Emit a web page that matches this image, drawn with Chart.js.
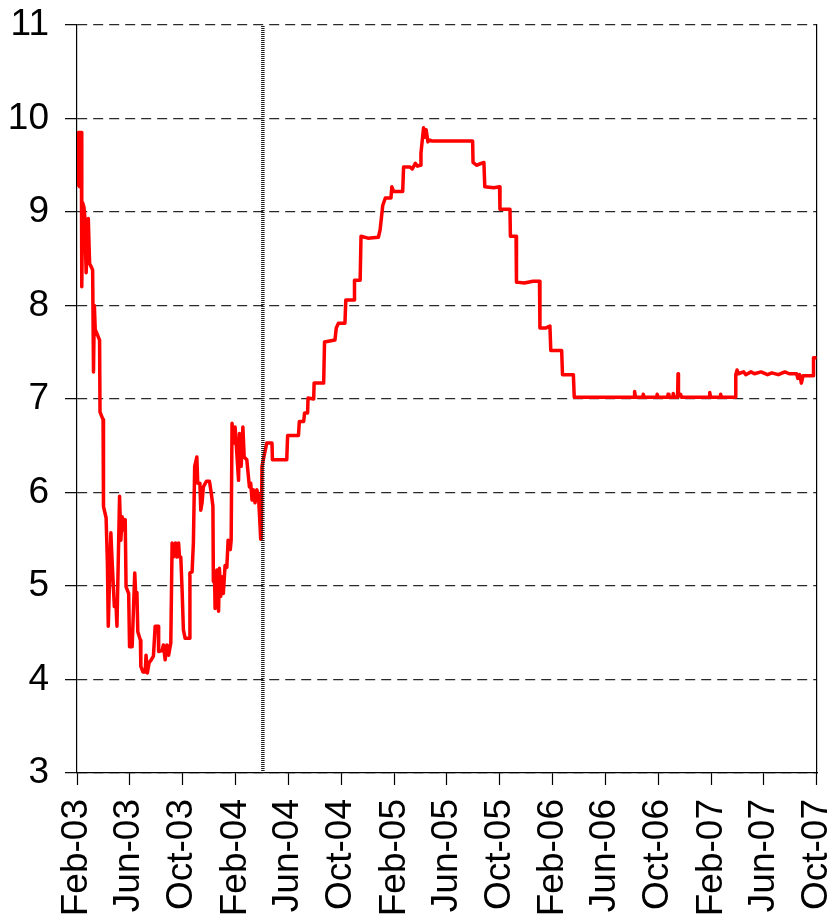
<!DOCTYPE html>
<html>
<head>
<meta charset="utf-8">
<script src="https://cdn.jsdelivr.net/npm/chart.js@4.4.0/dist/chart.umd.min.js"></script>
<style>
  html, body { margin: 0; padding: 0; background: #fff; }
  #wrap { width: 830px; height: 918px; }
</style>
</head>
<body>
<div id="wrap"><canvas id="rateChart" width="830" height="918"></canvas></div>
<script>
// days counted from 1 Feb 2003
const days = [
  0, 3, 5, 6, 8, 10, 11, 13, 16, 18, 21, 26, 29, 34, 36, 38, 40, 42, 46, 52,
  53, 60, 61, 67, 70, 72, 73, 78, 81, 86, 90, 92, 98, 101, 104, 107, 111, 113, 119, 121,
  127, 133, 135, 138, 140, 146, 147, 152, 157, 159, 162, 166, 171, 176, 180, 187, 188, 196, 199, 203,
  207, 211, 216, 219, 222, 227, 230, 234, 236, 239, 242, 245, 249, 259, 260, 265, 268, 271, 276, 278,
  283, 285, 288, 291, 298, 305, 309, 313, 314, 317, 318, 322, 326, 328, 331, 334, 337, 341, 345, 348,
  353, 355, 357, 360, 364, 368, 372, 374, 378, 382, 385, 391, 397, 400, 403, 406, 410, 414, 418, 420,
  423, 424, 426, 429, 437, 449, 450, 483, 485, 510, 512, 522, 524, 531, 532, 545, 546, 568, 570, 594,
  597, 602, 617, 619, 638, 639, 652, 654, 670, 694, 698, 704, 710, 723, 725, 729, 750, 752, 767, 772,
  779, 784, 790, 792, 798, 801, 804, 808, 812, 817, 911, 912, 920, 937, 939, 960, 973, 974, 997, 998,
  1011, 1012, 1030, 1050, 1065, 1066, 1080, 1089, 1091, 1116, 1118, 1143, 1145, 1283, 1284, 1286, 1303, 1304, 1306, 1335,
  1336, 1338, 1360, 1361, 1363, 1372, 1373, 1375, 1383, 1384, 1385, 1390, 1392, 1456, 1457, 1459, 1481, 1482, 1484, 1516,
  1517, 1520, 1523, 1535, 1540, 1552, 1560, 1575, 1590, 1600, 1615, 1630, 1640, 1657, 1660, 1664, 1668, 1672, 1695, 1696,
  1703
];

const rates = [
  9.27, 9.85, 9.85, 9.27, 9.85, 9.85, 8.20, 9.10, 9.05, 8.95, 8.35, 8.93, 8.45, 8.40, 8.38, 7.29, 8.00, 7.74, 7.70, 7.63,
  6.86, 6.78, 5.85, 5.73, 5.25, 4.57, 4.57, 5.57, 5.25, 4.78, 4.78, 4.57, 5.96, 5.49, 5.74, 5.60, 5.71, 4.99, 4.92, 4.35,
  4.35, 5.14, 4.93, 4.93, 4.51, 4.42, 4.14, 4.08, 4.08, 4.26, 4.07, 4.18, 4.21, 4.25, 4.57, 4.57, 4.30, 4.31, 4.37, 4.21,
  4.37, 4.26, 4.39, 5.46, 5.31, 5.46, 5.31, 5.46, 5.31, 5.31, 4.96, 4.53, 4.44, 4.44, 5.14, 5.15, 5.46, 6.28, 6.38, 6.10,
  6.10, 5.81, 5.89, 6.06, 6.12, 6.12, 6.00, 5.85, 5.05, 5.03, 4.76, 5.17, 4.73, 5.19, 4.89, 5.10, 4.92, 5.22, 5.20, 5.49,
  5.39, 5.49, 6.74, 6.53, 6.70, 6.42, 6.13, 6.63, 6.28, 6.70, 6.38, 6.35, 6.06, 6.10, 5.92, 6.03, 5.89, 6.03, 5.96, 5.78,
  5.50, 5.50, 6.28, 6.35, 6.53, 6.53, 6.35, 6.35, 6.61, 6.61, 6.76, 6.76, 6.85, 6.85, 7.01, 7.00, 7.17, 7.17, 7.61, 7.63,
  7.76, 7.81, 7.81, 8.06, 8.06, 8.27, 8.27, 8.74, 8.72, 8.73, 8.81, 9.07, 9.15, 9.15, 9.27, 9.22, 9.22, 9.48, 9.48, 9.46,
  9.52, 9.49, 9.50, 9.63, 9.90, 9.80, 9.88, 9.75, 9.77, 9.76, 9.76, 9.53, 9.50, 9.53, 9.27, 9.26, 9.27, 9.03, 9.03, 8.74,
  8.74, 8.25, 8.24, 8.26, 8.26, 7.76, 7.76, 7.78, 7.52, 7.52, 7.26, 7.26, 7.02, 7.02, 7.08, 7.02, 7.02, 7.05, 7.02, 7.02,
  7.05, 7.02, 7.02, 7.05, 7.02, 7.02, 7.06, 7.02, 7.02, 7.27, 7.03, 7.05, 7.02, 7.02, 7.07, 7.02, 7.02, 7.05, 7.02, 7.02,
  7.26, 7.31, 7.27, 7.29, 7.26, 7.29, 7.27, 7.29, 7.26, 7.28, 7.26, 7.29, 7.27, 7.27, 7.22, 7.26, 7.17, 7.25, 7.25, 7.44,
  7.44
];

// dotted marker line (start of the second period)
const markerDay = 428;
const markerRange = [3, 11];

const tickLabels = ['Feb-03', 'Jun-03', 'Oct-03', 'Feb-04', 'Jun-04', 'Oct-04', 'Feb-05', 'Jun-05',
  'Oct-05', 'Feb-06', 'Jun-06', 'Oct-06', 'Feb-07', 'Jun-07', 'Oct-07'];

const monthIdx = { Feb: 1, Jun: 5, Oct: 9 };
const start = Date.UTC(2003, 1, 1);
const tickDays = tickLabels.map(l => {
  const [m, y] = l.split('-');
  return (Date.UTC(2000 + Number(y), monthIdx[m], 1) - start) / 86400000;
});

const font = { family: "'Liberation Sans', Arial, sans-serif", size: 37 };

const ctx = document.getElementById('rateChart').getContext('2d');
new Chart(ctx, {
  type: 'line',
  data: {
    datasets: [{
      data: markerRange.map(v => ({ x: markerDay, y: v })),
      borderColor: '#1a1a1a',
      borderWidth: 3.5,
      borderDash: [1, 1],
      pointRadius: 0
    }, {
      data: days.map((d, i) => ({ x: d, y: rates[i] })),
      borderColor: '#ff0000',
      borderWidth: 3.5,
      borderJoinStyle: 'round',
      pointRadius: 0,
      tension: 0,
      fill: false
    }]
  },
  options: {
    responsive: false,
    animation: false,
    devicePixelRatio: 1,
    layout: { padding: { top: 25, right: 13, left: 0, bottom: 0 } },
    plugins: { legend: { display: false }, tooltip: { enabled: false } },
    scales: {
      x: {
        type: 'linear',
        min: 0,
        max: 1704,
        afterBuildTicks: s => { s.ticks = tickDays.map(v => ({ value: v })); },
        afterFit: s => {
          s.height = 145;
          s.paddingLeft = 0; s.paddingRight = 0;
        },
        ticks: {
          autoSkip: false,
          minRotation: 90,
          maxRotation: 90,
          padding: 14,
          color: '#000',
          font: font,
          callback: (v, i) => tickLabels[i]
        },
        grid: { drawOnChartArea: false, tickLength: 12, tickColor: '#000', tickWidth: 1.2 },
        border: { color: '#000', width: 1.2 }
      },
      y: {
        min: 3,
        max: 11,
        afterFit: s => {
          s.width = 77;
          s.paddingTop = 0; s.paddingBottom = 0;
        },
        ticks: { stepSize: 1, padding: 16, color: '#000', font: font },
        grid: { color: '#2a2a2a', lineWidth: 1.3, tickLength: 12, tickColor: '#000', tickWidth: 1.2 },
        border: { color: '#000', width: 1.2, dash: [10, 6] }
      },
      yRight: {
        position: 'right',
        min: 3,
        max: 11,
        afterFit: s => { s.width = 0; },
        ticks: { display: false },
        grid: { drawOnChartArea: false, drawTicks: false },
        border: { color: '#000', width: 1.2 }
      }
    }
  }
});
</script>
</body>
</html>
